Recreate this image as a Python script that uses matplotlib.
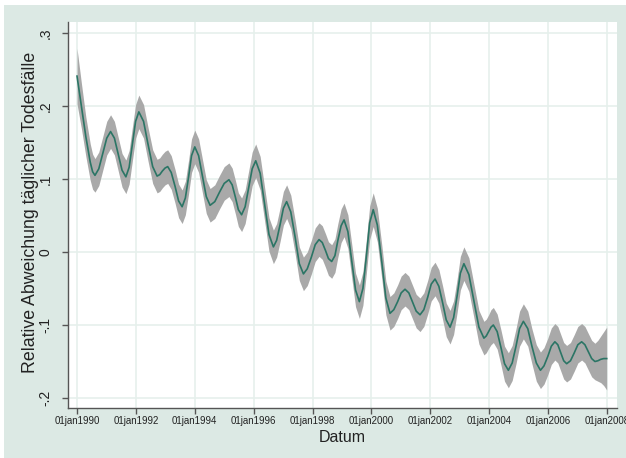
import matplotlib
matplotlib.use('Agg')
import matplotlib.pyplot as plt
from matplotlib.patches import Rectangle

plt.rcParams['font.family'] = ['Liberation Sans', 'DejaVu Sans']

# ---------------------------
# 資料（由圖上讀取，日期為小數年）
# ---------------------------
dates = [
    1990.00, 1990.15, 1990.30, 1990.45, 1990.53, 1990.61, 1990.74, 1990.875,
    1991.01, 1991.14, 1991.27, 1991.40, 1991.53, 1991.66, 1991.77, 1991.88, 1991.99,
    1992.10, 1992.26, 1992.41, 1992.57, 1992.72, 1992.81, 1992.90, 1992.99,
    1993.08, 1993.20, 1993.33, 1993.45, 1993.57, 1993.68, 1993.79, 1993.89,
    1994.00, 1994.13, 1994.26, 1994.39, 1994.52, 1994.68, 1994.84,
    1995.00, 1995.16, 1995.27, 1995.38, 1995.48, 1995.59, 1995.71, 1995.83, 1995.95,
    1996.07, 1996.22, 1996.37, 1996.52, 1996.67, 1996.78, 1996.90,
    1997.01, 1997.12, 1997.26, 1997.41, 1997.55, 1997.69, 1997.82, 1997.96,
    1998.09, 1998.22, 1998.33, 1998.44, 1998.54, 1998.65, 1998.76, 1998.86, 1998.97,
    1999.07, 1999.20, 1999.33, 1999.46, 1999.59, 1999.71, 1999.83, 1999.94,
    2000.06, 2000.20, 2000.35, 2000.49, 2000.63, 2000.76, 2000.89,
    2001.01, 2001.14, 2001.27, 2001.40, 2001.52, 2001.65, 2001.78, 2001.91,
    2002.03, 2002.16, 2002.29, 2002.42, 2002.54, 2002.67, 2002.79, 2002.91,
    2003.02, 2003.14, 2003.31, 2003.48, 2003.65, 2003.82, 2003.90, 2003.98,
    2004.06, 2004.14, 2004.27, 2004.40, 2004.52, 2004.65, 2004.78, 2004.91,
    2005.03, 2005.16, 2005.31, 2005.45, 2005.60, 2005.74, 2005.86, 2005.99,
    2006.11, 2006.23, 2006.33, 2006.43, 2006.53, 2006.63, 2006.76, 2006.89,
    2007.01, 2007.14, 2007.25, 2007.37, 2007.48, 2007.59, 2007.69, 2007.79, 2007.89, 2007.99,
]

values = [
    0.241, 0.200, 0.158, 0.123, 0.110, 0.105, 0.114, 0.135,
    0.156, 0.165, 0.156, 0.134, 0.112, 0.103, 0.116, 0.148, 0.179,
    0.192, 0.179, 0.148, 0.117, 0.104, 0.106, 0.111, 0.115,
    0.117, 0.109, 0.090, 0.070, 0.062, 0.074, 0.103, 0.132,
    0.144, 0.132, 0.104, 0.076, 0.064, 0.069, 0.082,
    0.094, 0.099, 0.092, 0.075, 0.058, 0.051, 0.062, 0.088, 0.114,
    0.125, 0.108, 0.066, 0.024, 0.007, 0.016, 0.038,
    0.060, 0.069, 0.055, 0.020, -0.016, -0.030, -0.023, -0.007,
    0.010, 0.017, 0.013, 0.002, -0.009, -0.013, -0.005, 0.016, 0.036,
    0.044, 0.028, -0.012, -0.052, -0.068, -0.050, -0.005, 0.040,
    0.058, 0.037, -0.013, -0.063, -0.084, -0.079, -0.068,
    -0.056, -0.051, -0.056, -0.069, -0.081, -0.086, -0.079, -0.062,
    -0.044, -0.037, -0.047, -0.070, -0.093, -0.103, -0.090, -0.060,
    -0.029, -0.016, -0.031, -0.067, -0.103, -0.118, -0.115, -0.109,
    -0.103, -0.100, -0.109, -0.131, -0.153, -0.162, -0.152, -0.129,
    -0.105, -0.095, -0.105, -0.129, -0.152, -0.162, -0.156, -0.143,
    -0.129, -0.123, -0.127, -0.138, -0.149, -0.153, -0.149, -0.138,
    -0.127, -0.123, -0.127, -0.137, -0.146, -0.150, -0.149, -0.147, -0.146, -0.146,
]

# 信賴區間半寬
ci_half = [
    0.038, 0.031, 0.027, 0.025, 0.024, 0.023, 0.023, 0.023,
    0.023, 0.023, 0.023, 0.023, 0.023, 0.023, 0.023, 0.023, 0.023,
    0.023, 0.023, 0.023, 0.023, 0.023, 0.023, 0.023, 0.023,
    0.023, 0.023, 0.023, 0.023, 0.023, 0.023, 0.023, 0.023,
    0.023, 0.023, 0.023, 0.023, 0.023, 0.023, 0.023,
    0.023, 0.023, 0.023, 0.023, 0.023, 0.023, 0.023, 0.023, 0.023,
    0.023, 0.023, 0.023, 0.023, 0.023, 0.023, 0.023,
    0.023, 0.023, 0.023, 0.023, 0.023, 0.023, 0.023, 0.023,
    0.023, 0.023, 0.023, 0.023, 0.023, 0.023, 0.023, 0.023, 0.023,
    0.023, 0.023, 0.023, 0.023, 0.023, 0.023, 0.023, 0.023,
    0.023, 0.023, 0.023, 0.023, 0.023, 0.023, 0.023,
    0.023, 0.023, 0.023, 0.023, 0.023, 0.023, 0.023, 0.023,
    0.023, 0.023, 0.023, 0.023, 0.023, 0.023, 0.023, 0.023,
    0.023, 0.023, 0.023, 0.023, 0.023, 0.023, 0.023, 0.023,
    0.024, 0.024, 0.024, 0.024, 0.024, 0.024, 0.024, 0.024,
    0.024, 0.024, 0.024, 0.024, 0.025, 0.025, 0.025, 0.025,
    0.025, 0.025, 0.025, 0.025, 0.025, 0.025, 0.025, 0.025,
    0.025, 0.025, 0.025, 0.025, 0.025, 0.025, 0.028, 0.032, 0.037, 0.043,
]

year_ticks = [1990, 1992, 1994, 1996, 1998, 2000, 2002, 2004, 2006, 2008]
year_labels = ['01jan%d' % y for y in year_ticks]
y_ticks = [0.3, 0.2, 0.1, 0.0, -0.1, -0.2]
y_labels = ['.3', '.2', '.1', '0', '-.1', '-.2']

lower = [v - h for v, h in zip(values, ci_half)]
upper = [v + h for v, h in zip(values, ci_half)]

# ---------------------------
# 畫圖
# ---------------------------
W, H = 626, 458
fig = plt.figure(figsize=(W / 100, H / 100), dpi=100, facecolor='white')
# 外框底色（左上留白邊）
fig.patches.append(Rectangle((4 / W, 0), 1, 1 - 5 / H, transform=fig.transFigure,
                             facecolor='#dce9e4', edgecolor='none', zorder=-10))

ax = fig.add_axes([68 / W, 1 - 408 / H, (617 - 68) / W, (408 - 22) / H])
ax.set_facecolor('white')

ax.fill_between(dates, lower, upper, color='#a9a9a9', lw=0, zorder=2)
ax.plot(dates, values, color='#2b7565', lw=1.2, zorder=3)

ax.set_xlim(1989.694, 2008.34)
ax.set_ylim(-0.2137, 0.3151)
ax.set_xticks(year_ticks)
ax.set_xticklabels(year_labels)
ax.set_yticks(y_ticks)
ax.set_yticklabels(y_labels, rotation=90, va='center')

ax.grid(True, color='#e6f0ec', lw=1.2, zorder=1)
ax.set_axisbelow(True)

for s in ['top', 'right']:
    ax.spines[s].set_visible(False)
for s in ['left', 'bottom']:
    ax.spines[s].set_color('#555555')
    ax.spines[s].set_linewidth(1.0)

ax.tick_params(axis='x', length=4, width=1, color='#555555', labelsize=7, pad=2, labelcolor='#222222')
ax.tick_params(axis='y', length=4, width=1, color='#555555', labelsize=10, pad=7, labelcolor='#222222')

fig.text(31 / W, 1 - 212 / H, 'Relative Abweichung täglicher Todesfälle',
         rotation=90, ha='center', va='center', fontsize=12.8, color='#222222')
fig.text(342.5 / W, 1 - 437 / H, 'Datum', ha='center', va='center', fontsize=11.5, color='#222222')

fig.savefig('out.png', dpi=100, facecolor=fig.get_facecolor())
